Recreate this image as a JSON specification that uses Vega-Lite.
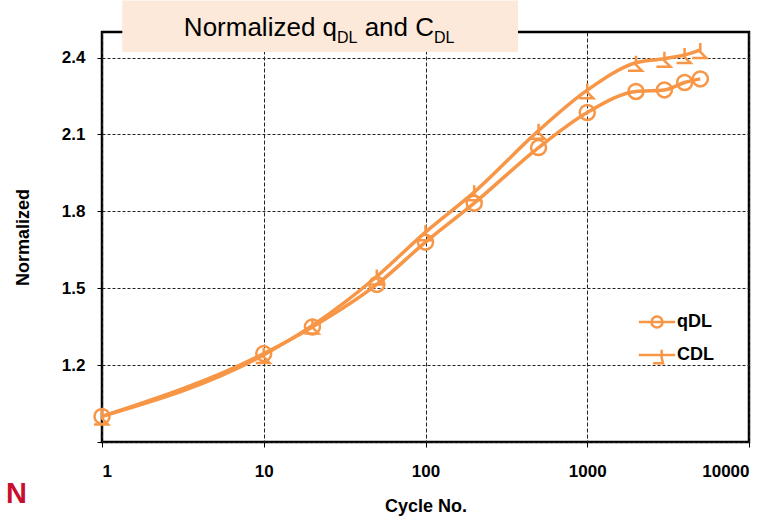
{
  "$schema": "https://vega.github.io/schema/vega-lite/v6.json",
  "width": 647,
  "height": 410,
  "autosize": {"type": "none"},
  "padding": {"left": 102, "top": 32, "right": 30, "bottom": 78},
  "background": "white",
  "config": {
    "view": {"stroke": "black", "strokeWidth": 2.5},
    "font": "Liberation Sans"
  },
  "datasets": {
    "series": [
      {"series": "qDL", "cycle": 1, "value": 1.0},
      {"series": "qDL", "cycle": 10, "value": 1.245},
      {"series": "qDL", "cycle": 20, "value": 1.349},
      {"series": "qDL", "cycle": 50, "value": 1.515},
      {"series": "qDL", "cycle": 100, "value": 1.68},
      {"series": "qDL", "cycle": 200, "value": 1.832},
      {"series": "qDL", "cycle": 500, "value": 2.049},
      {"series": "qDL", "cycle": 1000, "value": 2.186},
      {"series": "qDL", "cycle": 2000, "value": 2.268},
      {"series": "qDL", "cycle": 3000, "value": 2.274},
      {"series": "qDL", "cycle": 4000, "value": 2.303},
      {"series": "qDL", "cycle": 5000, "value": 2.317},
      {"series": "CDL", "cycle": 1, "value": 1.0},
      {"series": "CDL", "cycle": 10, "value": 1.24},
      {"series": "CDL", "cycle": 20, "value": 1.355},
      {"series": "CDL", "cycle": 50, "value": 1.546},
      {"series": "CDL", "cycle": 100, "value": 1.719},
      {"series": "CDL", "cycle": 200, "value": 1.875},
      {"series": "CDL", "cycle": 500, "value": 2.115},
      {"series": "CDL", "cycle": 1000, "value": 2.273},
      {"series": "CDL", "cycle": 2000, "value": 2.38},
      {"series": "CDL", "cycle": 3000, "value": 2.396},
      {"series": "CDL", "cycle": 4000, "value": 2.41},
      {"series": "CDL", "cycle": 5000, "value": 2.43}
    ]
  },
  "layer": [
    {
      "data": {"name": "series"},
      "mark": {"type": "line", "interpolate": "monotone", "color": "#F79646", "strokeWidth": 3.5},
      "encoding": {
        "x": {
          "field": "cycle",
          "type": "quantitative",
          "scale": {"type": "log", "domain": [1, 10000]},
          "axis": {
            "title": "Cycle No.",
            "values": [1, 10, 100, 1000, 10000],
            "format": "d",
            "domain": false,
            "grid": true,
            "gridColor": "#222",
            "gridDash": [4, 2],
            "gridWidth": 1,
            "ticks": true,
            "tickSize": 5,
            "tickColor": "black",
            "labelFont": "Liberation Sans",
            "labelFontSize": 17,
            "labelFontWeight": "bold",
            "labelColor": "black",
            "labelPadding": 16,
            "titleFont": "Liberation Sans",
            "titleFontSize": 18,
            "titleFontWeight": "bold",
            "titleColor": "black",
            "titlePadding": 18
          }
        },
        "y": {
          "field": "value",
          "type": "quantitative",
          "scale": {"domain": [0.9, 2.5], "zero": false, "nice": false},
          "axis": {
            "title": "Normalized",
            "values": [0.9, 1.2, 1.5, 1.8, 2.1, 2.4],
            "labelExpr": "datum.value < 1 ? '' : format(datum.value, '.1f')",
            "domain": false,
            "grid": true,
            "gridColor": "#222",
            "gridDash": [3, 2],
            "gridWidth": 1,
            "ticks": true,
            "tickSize": 5,
            "tickColor": "black",
            "labelFont": "Liberation Sans",
            "labelFontSize": 17,
            "labelFontWeight": "bold",
            "labelColor": "black",
            "labelPadding": 12,
            "titleFont": "Liberation Sans",
            "titleFontSize": 18,
            "titleFontWeight": "bold",
            "titleColor": "black",
            "titlePadding": 29
          }
        },
        "detail": {"field": "series"}
      }
    },
    {
      "data": {"name": "series"},
      "transform": [{"filter": "datum.series === 'qDL'"}],
      "mark": {"type": "point", "shape": "circle", "filled": false, "color": "#F79646", "strokeWidth": 2.5, "size": 225, "opacity": 1},
      "encoding": {
        "x": {"field": "cycle", "type": "quantitative"},
        "y": {"field": "value", "type": "quantitative"}
      }
    },
    {
      "data": {"name": "series"},
      "transform": [{"filter": "datum.series === 'CDL'"}],
      "mark": {"type": "point", "shape": "M0,-0.93L0,0.27L0.8,1.07L-1.07,1.07", "filled": false, "color": "#F79646", "strokeWidth": 2.5, "size": 225, "opacity": 1},
      "encoding": {
        "x": {"field": "cycle", "type": "quantitative"},
        "y": {"field": "value", "type": "quantitative"}
      }
    },
    {
      "data": {"name": "series"},
      "mark": {"type": "point", "filled": false, "color": "#F79646", "strokeWidth": 2.5, "size": 0},
      "encoding": {
        "x": {"field": "cycle", "type": "quantitative"},
        "y": {"field": "value", "type": "quantitative"},
        "shape": {
          "field": "series",
          "type": "nominal",
          "scale": {
            "domain": ["qDL", "CDL"],
            "range": [
              "M-3.3,0L3.3,0M1,0A1,1 0 1,1 -1,0A1,1 0 1,1 1,0",
              "M-3.3,0L3.3,0M0.85,-0.96L0.85,0.5L1.1,1.5L-0.7,1.5"
            ]
          },
          "legend": {
            "title": null,
            "orient": "none",
            "legendX": 546,
            "legendY": 281,
            "padding": 0,
            "symbolSize": 121,
            "symbolStrokeWidth": 2.5,
            "symbolStrokeColor": "#F79646",
            "symbolFillColor": "transparent",
            "symbolOpacity": 1,
            "labelFont": "Liberation Sans",
            "labelFontSize": 18,
            "labelFontWeight": "bold",
            "labelColor": "black",
            "labelOffset": 11,
            "rowPadding": 11
          }
        }
      }
    },
    {
      "data": {"values": [{}]},
      "mark": {"type": "rect", "color": "#FDE9D9", "opacity": 1},
      "encoding": {
        "x": {"datum": 1.335},
        "x2": {"datum": 373},
        "y": {"datum": 2.623},
        "y2": {"datum": 2.422}
      }
    },
    {
      "data": {"values": [{}]},
      "mark": {"type": "text", "text": "Normalized q", "align": "right", "baseline": "alphabetic", "font": "Liberation Sans", "fontSize": 26, "color": "black"},
      "encoding": {"x": {"datum": 28.38}, "y": {"datum": 2.4833}}
    },
    {
      "data": {"values": [{}]},
      "mark": {"type": "text", "text": "DL", "align": "left", "baseline": "alphabetic", "font": "Liberation Sans", "fontSize": 16, "color": "black"},
      "encoding": {"x": {"datum": 28.38}, "y": {"datum": 2.456}}
    },
    {
      "data": {"values": [{}]},
      "mark": {"type": "text", "text": "and C", "align": "right", "baseline": "alphabetic", "font": "Liberation Sans", "fontSize": 26, "color": "black"},
      "encoding": {"x": {"datum": 112.9}, "y": {"datum": 2.4833}}
    },
    {
      "data": {"values": [{}]},
      "mark": {"type": "text", "text": "DL", "align": "left", "baseline": "alphabetic", "font": "Liberation Sans", "fontSize": 16, "color": "black"},
      "encoding": {"x": {"datum": 112.9}, "y": {"datum": 2.456}}
    },
    {
      "data": {"values": [{}]},
      "mark": {"type": "text", "text": "N", "align": "right", "baseline": "alphabetic", "font": "Liberation Sans", "fontSize": 29, "fontWeight": "bold", "color": "#C8102E"},
      "encoding": {"x": {"datum": 0.344}, "y": {"datum": 0.661}}
    }
  ]
}
